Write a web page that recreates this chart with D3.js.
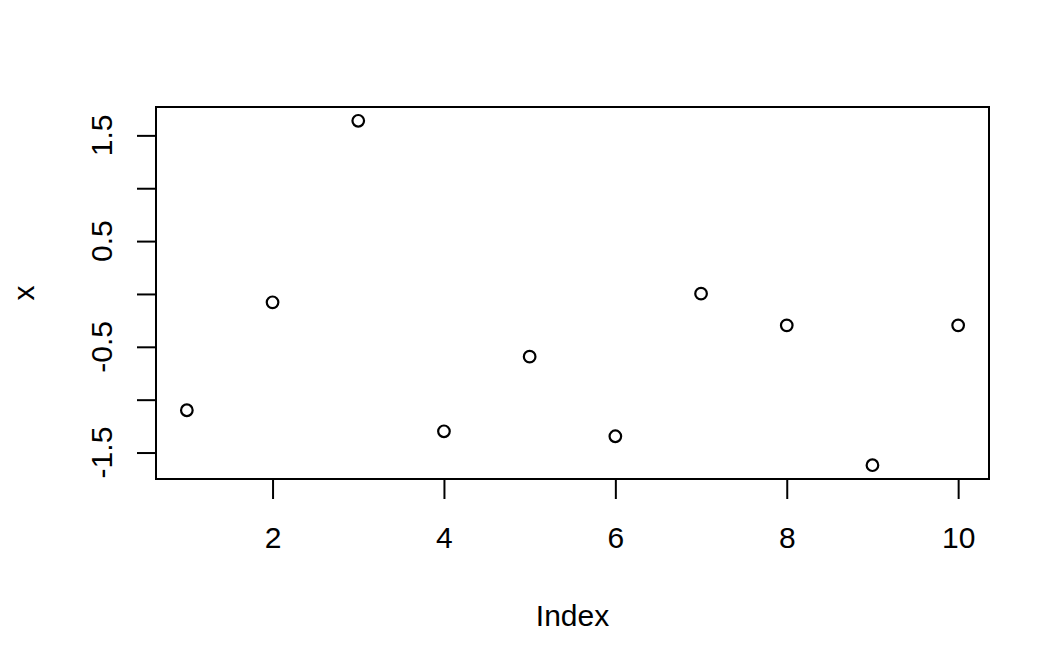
<!DOCTYPE html>
<html>
<head>
<meta charset="utf-8">
<script src="https://cdn.jsdelivr.net/npm/d3@7"></script>
<style>
  html, body { margin: 0; padding: 0; background: #fff; }
  text { font-family: "Liberation Sans", Arial, sans-serif; fill: #000; }
</style>
</head>
<body>
<svg id="chart" width="1044" height="655"></svg>
<script>
const indexValues = [1, 2, 3, 4, 5, 6, 7, 8, 9, 10];
const xValues = [-1.100, -0.079, 1.638, -1.299, -0.593, -1.346, 0.003, -0.297, -1.620, -0.297];
const xTickValues = [2, 4, 6, 8, 10];
const yTickValues = [-1.5, -1.0, -0.5, 0, 0.5, 1.0, 1.5];
const yLabelValues = [-1.5, -0.5, 0.5, 1.5];
const xTitle = "Index";
const yTitle = "x";

const svg = d3.select("#chart");
const pLeft = 156, pRight = 989, pTop = 107, pBottom = 479;
const fontSize = 30;

function padded(ext) {
  const d = (ext[1] - ext[0]) * 0.04;
  return [ext[0] - d, ext[1] + d];
}
const fmtY = v => d3.format(".1f")(v).replace("\u2212", "-");

const xScale = d3.scaleLinear().domain(padded(d3.extent(indexValues))).range([pLeft, pRight]);
const yScale = d3.scaleLinear().domain(padded(d3.extent(xValues))).range([pBottom, pTop]);

// box
svg.append("rect")
  .attr("x", pLeft).attr("y", pTop)
  .attr("width", pRight - pLeft).attr("height", pBottom - pTop)
  .attr("fill", "none").attr("stroke", "#000").attr("stroke-width", 2);

// x axis
const xAxis = d3.axisBottom(xScale).tickValues(xTickValues).tickSize(19).tickPadding(20)
  .tickFormat(d3.format("d"));
const gx = svg.append("g").attr("transform", `translate(0,${pBottom + 1})`).call(xAxis);
gx.select(".domain").remove();
gx.selectAll(".tick line").attr("stroke", "#000").attr("stroke-width", 2);
gx.selectAll(".tick text").attr("font-size", fontSize)
  .attr("font-family", "Liberation Sans, Arial, sans-serif")
  .attr("dy", null).attr("y", 68).attr("fill", "#000");

// y axis
const yAxis = d3.axisLeft(yScale).tickValues(yTickValues).tickSize(19).tickFormat("");
const gy = svg.append("g").attr("transform", `translate(${pLeft},0)`).call(yAxis);
gy.select(".domain").remove();
gy.selectAll(".tick line").attr("stroke", "#000").attr("stroke-width", 2);

svg.append("g").selectAll("text").data(yLabelValues).join("text")
  .attr("transform", d => `translate(112,${yScale(d)}) rotate(-90)`)
  .attr("text-anchor", "middle")
  .attr("font-size", fontSize)
  .text(fmtY);

// titles
svg.append("text")
  .attr("x", (pLeft + pRight) / 2).attr("y", 626)
  .attr("text-anchor", "middle").attr("font-size", fontSize)
  .text(xTitle);
svg.append("text")
  .attr("transform", `translate(34,${(pTop + pBottom) / 2}) rotate(-90)`)
  .attr("text-anchor", "middle").attr("font-size", fontSize)
  .text(yTitle);

// points
svg.append("g").selectAll("circle").data(indexValues).join("circle")
  .attr("cx", d => xScale(d))
  .attr("cy", (d, i) => yScale(xValues[i]))
  .attr("r", 5.8)
  .attr("fill", "none").attr("stroke", "#000").attr("stroke-width", 2.2);
</script>
</body>
</html>
